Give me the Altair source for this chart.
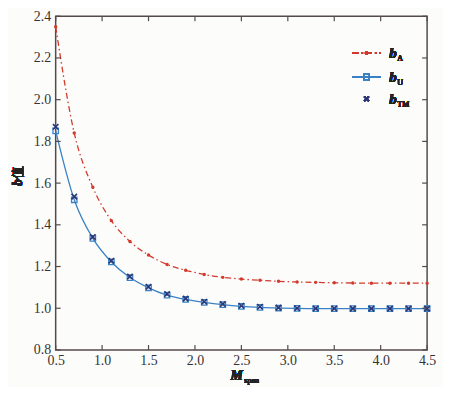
import altair as alt
import pandas as pd

x_vals = [0.5, 0.7, 0.9, 1.1, 1.3, 1.5, 1.7, 1.9, 2.1, 2.3, 2.5, 2.7, 2.9, 3.1, 3.3, 3.5, 3.7, 3.9, 4.1, 4.3, 4.5]
bA = [2.35, 1.84, 1.58, 1.42, 1.32, 1.255, 1.21, 1.182, 1.162, 1.148, 1.14, 1.134, 1.129, 1.126, 1.124, 1.122, 1.121, 1.12, 1.12, 1.12, 1.12]
bU = [1.85, 1.52, 1.335, 1.222, 1.147, 1.098, 1.063, 1.042, 1.028, 1.017, 1.009, 1.004, 1.001, 0.999, 0.998, 0.998, 0.998, 0.998, 0.998, 0.998, 0.998]
bTM = [1.87, 1.535, 1.342, 1.228, 1.152, 1.103, 1.068, 1.046, 1.031, 1.02, 1.012, 1.007, 1.003, 1.0, 0.999, 0.999, 0.998, 0.998, 0.998, 0.998, 0.998]
x_ticks = [0.5, 1.0, 1.5, 2.0, 2.5, 3.0, 3.5, 4.0, 4.5]
y_ticks = [0.8, 1.0, 1.2, 1.4, 1.6, 1.8, 2.0, 2.2, 2.4]

W, H = 374, 336
RED = "#d13a2c"
BLUE = "#3b82c4"
NAVY = "#2c3575"
FRAME = "#554a4a"
SERIF = "Liberation Serif"

df = pd.DataFrame({"x": x_vals, "bA": bA, "bU": bU, "bTM": bTM})
xt = pd.DataFrame({"x": x_ticks})
yt = pd.DataFrame({"y": y_ticks})

xs = alt.Scale(domain=[0.5, 4.5], nice=False, zero=False)
ys = alt.Scale(domain=[0.8, 2.4], nice=False, zero=False)

xaxis = alt.Axis(values=x_ticks, format=".1f", title=None, labelFont=SERIF, labelFontSize=14,
                 labelColor="#333333", tickSize=0, domain=False, grid=False, labelPadding=4,
                 labelFlush=False, labelOverlap=False)
yaxis = alt.Axis(values=y_ticks, format=".1f", title=None, labelFont=SERIF, labelFontSize=14,
                 labelColor="#333333", tickSize=0, domain=False, grid=False, labelPadding=5,
                 labelFlush=False, labelOverlap=False)

base = alt.Chart(df)

lineA = base.mark_line(color=RED, strokeWidth=1.3, strokeDash=[6, 3, 1.5, 3], interpolate="monotone").encode(
    x=alt.X("x:Q", scale=xs, axis=xaxis), y=alt.Y("bA:Q", scale=ys, axis=yaxis))
ptsA = base.mark_point(shape="circle", filled=True, color=RED, size=12, opacity=1).encode(
    x=alt.X("x:Q", scale=xs), y=alt.Y("bA:Q", scale=ys))
lineU = base.mark_line(color=BLUE, strokeWidth=1.3, interpolate="monotone").encode(
    x=alt.X("x:Q", scale=xs), y=alt.Y("bU:Q", scale=ys))
ptsU = base.mark_point(shape="square", filled=False, color=BLUE, size=30, strokeWidth=1.3, opacity=1).encode(
    x=alt.X("x:Q", scale=xs), y=alt.Y("bU:Q", scale=ys))
XPATH = "M-1,-1L1,1M-1,1L1,-1"
ptsTM = base.mark_point(shape=XPATH, filled=False, color=NAVY, size=30, strokeWidth=1.6, opacity=1).encode(
    x=alt.X("x:Q", scale=xs), y=alt.Y("bTM:Q", scale=ys))

# inward ticks on all four sides
tl = alt.Chart(yt).mark_rule(color=FRAME, strokeWidth=1.2).encode(
    y=alt.Y("y:Q", scale=ys), x=alt.value(0), x2=alt.value(5))
tr = alt.Chart(yt).mark_rule(color=FRAME, strokeWidth=1.2).encode(
    y=alt.Y("y:Q", scale=ys), x=alt.value(W), x2=alt.value(W - 5))
tb = alt.Chart(xt).mark_rule(color=FRAME, strokeWidth=1.2).encode(
    x=alt.X("x:Q", scale=xs), y=alt.value(H), y2=alt.value(H - 5))
tt = alt.Chart(xt).mark_rule(color=FRAME, strokeWidth=1.2).encode(
    x=alt.X("x:Q", scale=xs), y=alt.value(0), y2=alt.value(5))

# legend
lgA_line = alt.Chart(df).mark_rule(color=RED, strokeWidth=1.3, strokeDash=[6, 3, 1.5, 3]).encode(
    x=alt.value(299), x2=alt.value(327), y=alt.value(37))
lgA_pt = alt.Chart(df).mark_point(shape="circle", filled=True, color=RED, size=12, opacity=1).encode(
    x=alt.value(313), y=alt.value(37))
lgU_line = alt.Chart(df).mark_rule(color=BLUE, strokeWidth=1.3).encode(
    x=alt.value(299), x2=alt.value(327), y=alt.value(61))
lgU_pt = alt.Chart(df).mark_point(shape="square", filled=False, color=BLUE, size=30, strokeWidth=1.3, opacity=1).encode(
    x=alt.value(313), y=alt.value(61))
lgT_pt = alt.Chart(df).mark_point(shape=XPATH, filled=False, color=NAVY, size=20, strokeWidth=1.6, opacity=1).encode(
    x=alt.value(313), y=alt.value(83))

def txt(s, x, y, size=14, style="italic", weight="bold", angle=0, align="left"):
    return alt.Chart(df).mark_text(text=s, font=SERIF, fontSize=size, fontStyle=style, fontWeight=weight,
                                   color="#222222", align=align, baseline="alphabetic", angle=angle).encode(
        x=alt.value(x), y=alt.value(y))

legend_txt = [
    txt("b", 336, 42, size=15), txt("A", 344, 45, size=8, style="normal", weight="normal"),
    txt("b", 336, 66, size=15), txt("U", 344, 69, size=8, style="normal", weight="normal"),
    txt("b", 336, 88, size=15), txt("TM", 344, 91, size=8, style="normal", weight="normal"),
]

titles = [
    txt("M", 176, 366, size=14),
    txt("span", 190, 369, size=8, style="normal", weight="normal"),
    txt("b", -34, 171, size=14, angle=270),
    txt("值", -34, 164, size=13, style="normal", weight="normal", angle=270),
]

chart = alt.layer(lineA, ptsA, lineU, ptsU, ptsTM, tl, tr, tb, tt,
                  lgA_line, lgA_pt, lgU_line, lgU_pt, lgT_pt, *legend_txt, *titles).properties(
    width=W, height=H, background="#fcfcfb",
    padding={"left": 48, "top": 7, "right": 16, "bottom": 36},
    autosize=alt.AutoSizeParams(type="none"),
).configure_view(stroke=FRAME, strokeWidth=1.5)

chart.save("out.html", embed_options={"renderer": "svg", "actions": False})
